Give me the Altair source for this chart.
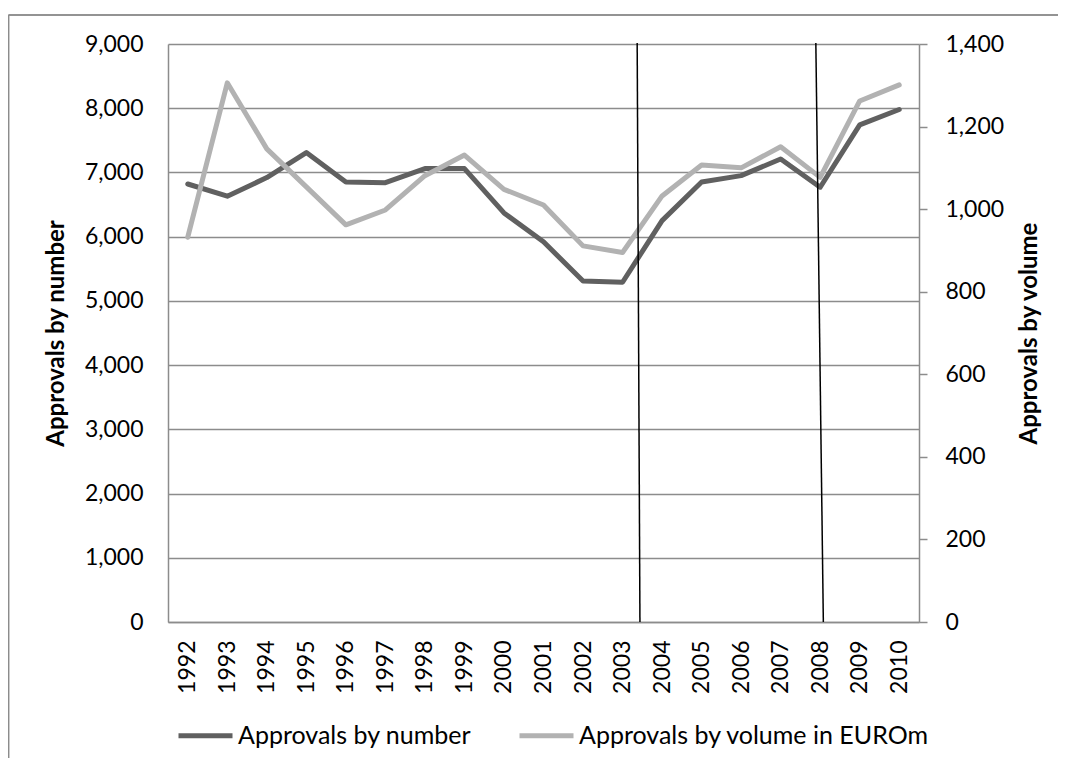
import altair as alt
import pandas as pd

years = list(range(1992, 2011))
approvals_number = [6820, 6630, 6920, 7310, 6850, 6840, 7060, 7060, 6370, 5920,
                    5310, 5290, 6250, 6850, 6950, 7210, 6770, 7740, 7980]
approvals_volume = [932, 1306, 1146, 1054, 962, 998, 1081, 1131, 1048, 1010,
                    911, 895, 1032, 1107, 1100, 1151, 1077, 1262, 1301]
series_names = ["Approvals by number", "Approvals by volume in EUROm"]
series_colors = ["#606060", "#b2b2b2"]
left_ticks = list(range(0, 9001, 1000))
right_ticks = list(range(0, 1401, 200))
# annotation lines: year position at top and at bottom of the plot
marker_top = [2003.37, 2007.89]
marker_bottom = [2003.44, 2008.08]

FONT = "Lato"
FS = 23
W, H = 751, 578

df_num = pd.DataFrame({"year": years, "value": approvals_number, "series": series_names[0]})
df_vol = pd.DataFrame({"year": years, "value": approvals_volume, "series": series_names[1]})
df_mark = pd.DataFrame({"year": marker_top, "x_bot": marker_bottom})

x_scale = alt.Scale(domain=[1991.5, 2010.5], nice=False, zero=False)
x_axis = alt.Axis(values=years, format="d", labelAngle=270, ticks=False,
                  labelPadding=18, grid=False, title=None,
                  domainColor="#8c8c8c", domainWidth=1.5)
x_enc = alt.X("year:Q", scale=x_scale, axis=x_axis)

color_enc = alt.Color("series:N",
                      scale=alt.Scale(domain=series_names, range=series_colors),
                      legend=alt.Legend(orient="none", legendX=8, legendY=662,
                                        direction="horizontal", title=None,
                                        symbolType="stroke", symbolSize=2916,
                                        symbolStrokeWidth=5, labelOffset=3,
                                        columnPadding=37, padding=0,
                                        labelFontSize=25, labelFont=FONT,
                                        labelColor="#000000", labelLimit=500))

line_num = alt.Chart(df_num).mark_line(strokeWidth=5, strokeCap="round", strokeJoin="round").encode(
    x=x_enc,
    y=alt.Y("value:Q", scale=alt.Scale(domain=[0, 9000], nice=False),
            axis=alt.Axis(values=left_ticks, format=",.0f", ticks=False, labelPadding=25,
                          grid=True, gridColor="#8c8c8c", gridWidth=1.5,
                          domainColor="#8c8c8c", domainWidth=1.5,
                          title="Approvals by number", titleFontWeight="bold",
                          titlePadding=16)),
    color=color_enc,
)

line_vol = alt.Chart(df_vol).mark_line(strokeWidth=5, strokeCap="round", strokeJoin="round").encode(
    x=x_enc,
    y=alt.Y("value:Q", scale=alt.Scale(domain=[0, 1400], nice=False),
            axis=alt.Axis(values=right_ticks, format=",.0f", orient="right", ticks=True,
                          tickSize=8, tickColor="#8c8c8c", tickWidth=1.5,
                          labelPadding=18, grid=False,
                          domainColor="#8c8c8c", domainWidth=1.5,
                          title="Approvals  by volume", titleFontWeight="bold",
                          titleAngle=270, titlePadding=38)),
    color=color_enc,
)

rules = alt.Chart(df_mark).mark_rule(color="#000000", strokeWidth=1.5).encode(
    x=alt.X("year:Q", scale=x_scale, axis=x_axis),
    x2="x_bot:Q",
    y=alt.value(-1),
    y2=alt.value(H),
)

border = alt.Chart(df_mark).mark_rule(color="#8c8c8c", strokeWidth=1.5).encode(
    x=alt.value(-159.5), x2=alt.value(-159.5), y=alt.value(-29), y2=alt.value(H + 200),
)
border_top = alt.Chart(df_mark).mark_rule(color="#8c8c8c", strokeWidth=1.5).encode(
    x=alt.value(-159.5), x2=alt.value(W + 200), y=alt.value(-29), y2=alt.value(-29),
)

chart = alt.layer(line_num, line_vol, rules, border, border_top).resolve_scale(
    y="independent"
).properties(
    width=W, height=H,
    background="#ffffff",
    autosize=alt.AutoSizeParams(type="none"),
    padding={"left": 160, "top": 36, "right": 139, "bottom": 136},
).configure_view(stroke=None).configure_axis(
    labelFont=FONT, labelFontSize=FS, labelColor="#000000",
    titleFont=FONT, titleFontSize=24, titleColor="#000000",
)

chart.save("out.html", embed_options={"renderer": "svg", "actions": False})
